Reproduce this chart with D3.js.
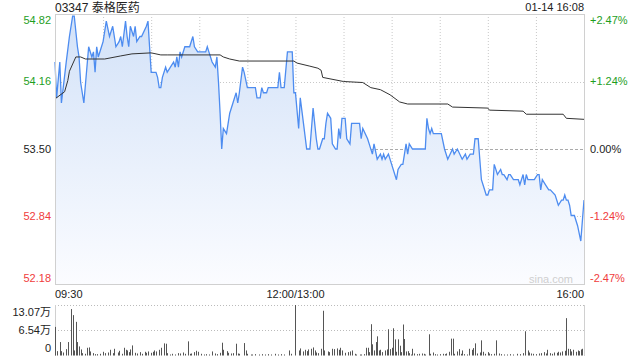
<!DOCTYPE html>
<html>
<head>
<meta charset="utf-8">
<script src="https://cdn.jsdelivr.net/npm/d3@7"></script>
<style>
  html, body { margin: 0; padding: 0; background: #fff; }
  svg { display: block; font-family: Arial, "Liberation Sans", "Noto Sans CJK SC", sans-serif; }
</style>
</head>
<body>
<div id="chart"></div>
<script>
// minutes since 09:30 open, lunch break removed (0..330)
const priceMin = [0,1,3,4,7,9,11,12,14,15,16,18,21,23,24,25,26,27,29,30,31,32,34,36,38,40,41,42,44,45,46,47,49,50,51,53,54,57,58,59,60,63,64,65,66,67,69,70,72,74,75,76,77,78,79,81,83,84,86,87,89,94,95,96,98,100,101,102,103,104,105,107,109,111,113,114,115,117,118,120,125,126,128,129,130,132,133,139,140,141,143,145,148,149,150,152,153,155,157,159,161,163,164,165,167,168,169,170,172,173,175,176,177,178,179,181,182,184,185,190,191,192,195,196,198,199,201,203,204,205,206,208,210,213,214,216,217,219,220,221,223,231,232,233,234,235,236,241,243,245,248,249,251,254,256,257,259,261,262,264,265,266,267,269,270,271,273,274,276,278,279,280,282,283,284,286,289,290,292,293,294,295,299,301,302,303,304,306,308,309,312,314,316,317,318,319,320,321,322,324,326,328,330];
const priceVal = [54.35,54.00,54.35,53.95,54.35,54.60,54.80,54.80,54.50,54.40,54.15,53.95,54.50,54.40,54.45,54.25,54.50,54.40,54.50,54.55,54.65,54.75,54.60,54.70,54.50,54.55,54.60,54.50,54.75,54.60,54.50,54.70,54.60,54.70,54.55,54.60,54.60,54.70,54.75,54.50,54.25,54.25,54.20,54.10,54.10,54.20,54.30,54.25,54.30,54.35,54.30,54.40,54.30,54.45,54.40,54.50,54.50,54.50,54.60,54.50,54.45,54.45,54.50,54.45,54.35,54.30,54.40,54.15,53.85,53.50,53.70,53.65,53.85,53.95,54.05,53.95,54.05,54.30,54.25,54.10,54.10,54.00,54.00,54.10,54.05,54.05,54.10,54.10,54.25,54.10,54.10,54.45,54.45,54.05,54.05,53.70,54.00,53.75,53.50,53.50,53.90,53.60,53.50,53.50,53.60,53.60,53.75,53.85,53.80,53.55,53.50,53.50,53.70,53.60,53.80,53.80,53.60,53.55,53.75,53.75,53.60,53.70,53.60,53.55,53.45,53.55,53.40,53.45,53.40,53.45,53.40,53.45,53.35,53.20,53.30,53.35,53.35,53.55,53.45,53.55,53.50,53.50,53.80,53.70,53.65,53.70,53.65,53.65,53.50,53.40,53.50,53.45,53.50,53.40,53.45,53.40,53.45,53.45,53.60,53.60,53.40,53.20,53.15,53.05,53.05,53.10,53.10,53.35,53.25,53.30,53.25,53.25,53.20,53.25,53.25,53.20,53.20,53.15,53.25,53.15,53.25,53.20,53.20,53.25,53.25,53.10,53.20,53.15,53.10,53.10,53.05,52.95,53.00,53.00,53.05,53.00,53.00,52.95,52.85,52.85,52.75,52.60,53.00];

// average price line
const avgMin = [0,6,8,9,13,16,19,31,41,48,60,66,70,103,105,109,115,149,151,159,164,166,167,180,192,197,203,209,215,220,245,248,270,271,292,294,317,319,330];
const avgVal = [53.99,54.06,54.17,54.26,54.40,54.40,54.38,54.38,54.41,54.43,54.44,54.42,54.42,54.42,54.40,54.38,54.36,54.36,54.34,54.31,54.29,54.27,54.20,54.16,54.15,54.10,54.08,54.03,53.96,53.94,53.94,53.91,53.90,53.88,53.87,53.84,53.84,53.80,53.79];

// volume bars (shares)
const volMin = [0,1,3,4,5,7,8,10,11,12,13,14,15,16,17,19,20,21,22,24,25,26,28,30,31,33,34,36,37,39,40,42,43,44,45,46,47,48,50,51,53,54,56,57,58,60,61,62,63,65,66,68,69,70,72,73,75,77,78,80,81,83,84,85,87,88,89,91,93,94,96,98,100,101,103,104,105,107,108,110,111,113,114,115,118,119,120,122,123,125,127,129,131,133,135,137,139,141,143,146,147,150,152,153,155,156,157,158,160,161,162,163,164,166,167,168,170,171,173,174,176,177,178,179,181,183,184,185,187,188,190,191,193,194,195,196,197,198,199,200,201,202,203,204,206,207,208,209,210,211,212,213,214,215,216,217,218,219,220,221,222,223,224,226,227,229,230,231,233,234,236,237,238,240,242,243,244,246,247,248,249,251,252,253,254,255,257,258,260,261,262,263,265,266,267,268,270,271,272,274,275,277,278,280,282,284,286,288,290,292,293,295,296,297,298,300,302,303,305,306,307,309,310,311,313,314,315,316,318,319,320,321,322,323,325,326,327,328,329];
const volVal = [74000,11300,34800,11300,7800,16500,34800,120200,104500,13100,87100,34800,23500,15700,6100,4400,20000,20900,10500,6100,3500,3500,4400,9600,6100,7800,14800,6100,17400,7800,12200,4400,20000,14800,13100,8700,15700,26100,7000,5200,8700,4400,9600,7000,10500,7000,9600,13100,10500,14800,20000,31400,30500,6100,2600,4400,2600,6100,5200,7800,4400,36600,4400,5200,8700,12200,9600,4400,2600,3500,2600,10500,5200,3500,7000,33100,14800,11300,7000,5200,6100,30500,5200,4400,32200,13100,4400,2600,2600,3500,2600,3500,2600,3500,2600,4400,2600,3500,2600,13100,4400,130700,13100,18300,10500,14800,11300,15700,17400,20900,13100,7800,6100,17400,115800,13100,10500,8700,17400,16500,18300,14800,20000,13100,7000,8700,10500,13100,4400,2600,2600,2600,3500,20000,20000,8700,81000,29000,13100,34800,49600,13100,14800,8700,13100,15700,67900,16500,20000,70500,41800,9600,41800,25300,8700,80200,42700,10500,11300,6100,2600,17400,5200,3500,4400,5200,4400,2600,54900,4400,7800,3500,2600,3500,4400,3500,5200,9600,43600,43600,4400,10500,16500,4400,13100,3500,2600,17400,14800,19200,31400,5200,7800,39200,9600,4400,8700,5200,3500,4400,39200,5200,3500,2600,2600,3500,2600,4400,3500,6100,62700,13100,7800,5200,4400,3500,5200,6100,8700,5200,14800,6100,4400,7800,7000,9600,7800,10500,12200,96700,17400,16500,10500,14800,9600,13100,11300,15700,17400];

const priceTicks = [54.82, 54.16, 53.50, 52.84, 52.18];
const pctLabels = ["+2.47%", "+1.24%", "0.00%", "-1.24%", "-2.47%"];
const gridMins = [30, 60, 90, 120, 150, 180, 210, 240, 270, 300];
const timeLabels = [[0, "09:30"], [150, "12:00/13:00"], [330, "16:00"]];
const volTicks = [[130700, "13.07万"], [65350, "6.54万"], [0, "0"]];
const prevClose = 53.50;

const W = 640, H = 360;
const plotL = 55, plotR = 584, plotT = 14, plotB = 284;

const svg = d3.select('#chart').append('svg').attr('width', W).attr('height', H);

const x = d3.scaleLinear().domain([0, 330]).range([plotL, plotR]);
const y = d3.scaleLinear().domain([52.18, 54.82]).range([plotB, plotT]);
const yv = d3.scaleLinear().domain([0, 130700]).range([355.5, 305]);

const tickColor = v => v > prevClose ? '#1e9e1e' : (v < prevClose ? '#f03c3c' : '#222');

// gradient for area
let defs = svg.append('defs');
let grad = defs.append('linearGradient').attr('id', 'areaGrad')
	.attr('x1', 0).attr('y1', 0).attr('x2', 0).attr('y2', 1);
grad.append('stop').attr('offset', '0%').attr('stop-color', '#d3e2f8');
grad.append('stop').attr('offset', '100%').attr('stop-color', '#fbfcff');

// grid
svg.selectAll('.vgrid').data(gridMins).enter().append('line')
	.attr('x1', d => x(d) + 0.5).attr('x2', d => x(d) + 0.5)
	.attr('y1', plotT).attr('y2', plotB)
	.attr('stroke', '#c8c8c8').attr('stroke-dasharray', '1,2');

svg.selectAll('.hgrid').data(priceTicks.slice(1, 4)).enter().append('line')
	.attr('x1', plotL).attr('x2', plotR)
	.attr('y1', d => Math.round(y(d)) + 0.5).attr('y2', d => Math.round(y(d)) + 0.5)
	.attr('stroke', d => d === prevClose ? '#aaa' : '#c8c8c8')
	.attr('stroke-dasharray', d => d === prevClose ? '3,2' : '1,2');

// area + lines
let pts = priceMin.map((m, i) => [m, priceVal[i]]);
let area = d3.area().x(d => x(d[0])).y0(plotB).y1(d => y(d[1]));
svg.append('path').datum(pts).attr('d', area).attr('fill', 'url(#areaGrad)');

let line = d3.line().x(d => x(d[0])).y(d => y(d[1]));
svg.append('path').datum(pts).attr('d', line)
	.attr('fill', 'none').attr('stroke', '#4d8cf0').attr('stroke-width', 1.3);

let avgPts = avgMin.map((m, i) => [m, avgVal[i]]);
svg.append('path').datum(avgPts).attr('d', line)
	.attr('fill', 'none').attr('stroke', '#333').attr('stroke-width', 1);

// frame
svg.append('rect').attr('x', plotL + 0.5).attr('y', plotT + 0.5)
	.attr('width', plotR - plotL).attr('height', plotB - plotT)
	.attr('fill', 'none').attr('stroke', '#d0d0d0');

// left price labels
svg.selectAll('.plab').data(priceTicks).enter().append('text')
	.attr('x', 51)
	.attr('y', (d, i) => y(d) + (i === 0 ? 6 : (i === 4 ? -6 : 0)))
	.attr('dy', '0.35em')
	.attr('text-anchor', 'end')
	.attr('font-size', 11)
	.attr('fill', d => tickColor(d))
	.text(d => d.toFixed(2));

// right percent labels
svg.selectAll('.rlab').data(priceTicks).enter().append('text')
	.attr('x', 590)
	.attr('y', (d, i) => y(d) + (i === 0 ? 6 : (i === 4 ? -6 : 0)))
	.attr('dy', '0.35em')
	.attr('font-size', 11)
	.attr('fill', d => tickColor(d))
	.text((d, i) => pctLabels[i]);

// time labels
svg.selectAll('.tlab').data(timeLabels).enter().append('text')
	.attr('x', d => x(d[0]))
	.attr('y', 298)
	.attr('text-anchor', (d, i) => i === 0 ? 'start' : (i === 2 ? 'end' : 'middle'))
	.attr('font-size', 11)
	.attr('fill', '#222')
	.text(d => d[1]);

// title
svg.append('text').attr('x', 55).attr('y', 12).attr('font-size', 12).attr('fill', '#222').text('03347 泰格医药');
svg.append('text').attr('x', 584).attr('y', 11).attr('text-anchor', 'end').attr('font-size', 11).attr('fill', '#222').text('01-14 16:08');

// watermark
svg.append('text').attr('x', 573).attr('y', 283).attr('text-anchor', 'end')
	.attr('font-size', 11).attr('fill', '#cfcfcf').text('sina.com');

// volume panel
svg.selectAll('.vg').data(volTicks.slice(0, 2)).enter().append('line')
	.attr('x1', plotL).attr('x2', plotR)
	.attr('y1', d => Math.round(yv(d[0])) + 0.5).attr('y2', d => Math.round(yv(d[0])) + 0.5)
	.attr('stroke', '#bbb').attr('stroke-dasharray', '1,2');
svg.append('line').attr('x1', plotL + 0.5).attr('x2', plotL + 0.5).attr('y1', 305).attr('y2', 356).attr('stroke', '#d0d0d0');
svg.append('line').attr('x1', plotR + 0.5).attr('x2', plotR + 0.5).attr('y1', 305).attr('y2', 356).attr('stroke', '#d0d0d0');

svg.selectAll('.vbar').data(volMin).enter().append('rect')
	.attr('x', d => Math.round(x(d)))
	.attr('width', 1)
	.attr('y', (d, i) => yv(volVal[i]))
	.attr('height', (d, i) => yv(0) - yv(volVal[i]))
	.attr('fill', '#555');

svg.selectAll('.vlab').data(volTicks).enter().append('text')
	.attr('x', 51)
	.attr('y', (d, i) => yv(d[0]) + (i === 0 ? 7 : (i === 2 ? -7 : 0)))
	.attr('dy', '0.35em')
	.attr('text-anchor', 'end')
	.attr('font-size', 11)
	.attr('fill', '#222')
	.text(d => d[1]);
</script>
</body>
</html>
